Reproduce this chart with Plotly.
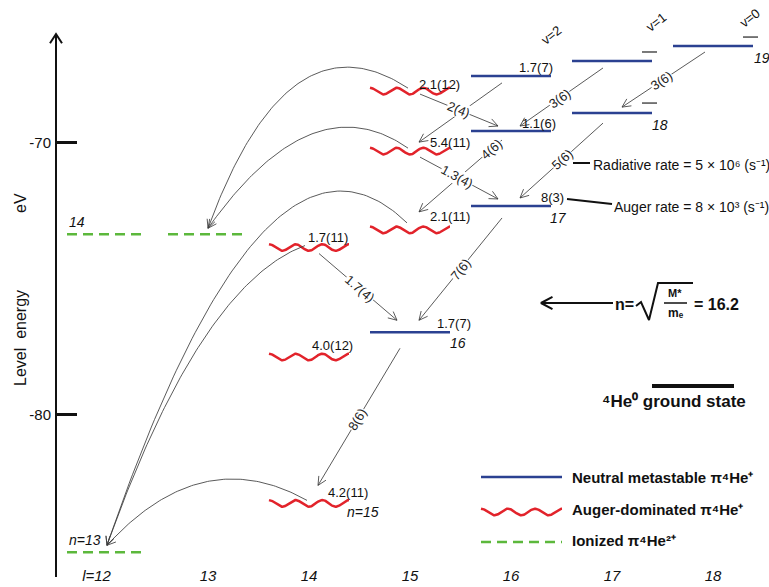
import numpy as np
import plotly.graph_objects as go

# ---------------- data ----------------
x_ticks = [12, 13, 14, 15, 16, 17, 18]
x_ticktext = ["l=12" + "\u00a0" * 5, "13", "14", "15", "16", "17", "18"]
y_ticks = [-70, -80]
y_ticktext = ["-70", "-80"]

# neutral metastable levels (n, l, energy eV)
meta_n = [19, 19, 19, 18, 18, 17, 16]
meta_l = [18, 17, 16, 17, 16, 16, 15]
meta_E = [-66.44, -66.99, -67.54, -68.91, -69.57, -72.33, -76.98]

# Auger-dominated levels
aug_n = [19, 18, 17, 17, 16, 15]
aug_l = [15, 15, 15, 14, 14, 14]
aug_E = [-68.10, -70.31, -73.21, -73.86, -77.89, -83.28]
aug_rate = ["2.1(12)", "5.4(11)", "2.1(11)", "1.7(11)", "4.0(12)", "4.2(11)"]

# ionized levels
ion_n = [14, 14, 13]
ion_l = [12, 13, 12]
ion_E = [-73.37, -73.37, -85.08]

# radiative rates written on metastable levels
rate_n = [19, 18, 17, 16]
rate_l = [16, 16, 16, 15]
rate_txt = ["1.7(7)", "1.1(6)", "8(3)", "1.7(7)"]

# level n names
name_n = [19, 18, 17, 16, 15, 14, 13]
name_l = [18, 17, 16, 15, 14, 12, 12]
name_txt = ["19", "18", "17", "16", "n=15", "14", "n=13"]

# short marks
mark_l = [17, 17, 18]
mark_E = [-66.66, -68.54, -66.11]

# radiative transitions (n,l) -> (n,l)
rad_from = [(19, 18), (19, 17), (19, 16), (18, 17), (18, 16), (17, 16), (16, 15)]
rad_to = [(18, 17), (18, 16), (18, 15), (17, 16), (17, 15), (16, 15), (15, 14)]
rad_lab = ["3(6)", "3(6)", "", "5(6)", "4(6)", "7(6)", "8(6)"]

# collisional transitions from Auger-dominated states
col_from = [(19, 15), (18, 15), (17, 14)]
col_to = [(18, 16), (17, 16), (16, 15)]
col_lab = ["2(4)", "1.3(4)", "1.7(4)"]

# Auger transitions to ionized states
aug_from = [(19, 15), (18, 15), (17, 15), (17, 14), (15, 14)]
aug_to = [(14, 13), (14, 13), (13, 12), (13, 12), (13, 12)]

# ---------------- styles / geometry ----------------
W, H = 769, 587
AXPX = 56
PPX, PPY = 101.0, 27.16
X0PX, Y0PX = 410.0, 142.7
HALF = 40
FONT = "Liberation Sans, Arial, Helvetica, sans-serif"
BLUE = "#2b4191"
RED = "#e2232b"
GREEN = "#5cb83c"
ARC = "#3c3c3c"


def px2l(px):
    return 15 + (px - X0PX) / PPX


def py2e(py):
    return -70 - (py - Y0PX) / PPY


def l2px(l):
    return X0PX + (l - 15) * PPX


def e2py(e):
    return Y0PX - (e + 70) * PPY


E = {}
for n, l, e in zip(meta_n, meta_l, meta_E):
    E[(n, l)] = e
for n, l, e in zip(aug_n, aug_l, aug_E):
    E[(n, l)] = e
for n, l, e in zip(ion_n, ion_l, ion_E):
    E[(n, l)] = e


def pt(nl, dx=0, dy=0):
    return np.array([l2px(nl[1]) + dx, e2py(E[nl]) + dy], dtype=float)


def wave(lc, e, half=HALF, amp=3.3, periods=3, n=120):
    p = np.linspace(-half, half, n)
    x = lc + p / PPX
    y = e + amp / PPY * np.cos(2 * np.pi * periods * (p + half) / (2 * half))
    return list(x), list(y)


def head(tip, frm, length=9.5, half_deg=26.0):
    """V-shaped open arrow head in pixel coords."""
    d = tip - frm
    d = d / np.hypot(*d)
    out = []
    for s in (1, -1):
        a = np.radians(half_deg) * s
        r = np.array([d[0] * np.cos(a) - d[1] * np.sin(a), d[0] * np.sin(a) + d[1] * np.cos(a)])
        out.append(tip - length * r)
    return [out[0], tip, out[1]]


fig = go.Figure()

# metastable levels
xs, ys = [], []
for l, e in zip(meta_l, meta_E):
    xs += [l - HALF / PPX, l + HALF / PPX, None]
    ys += [e, e, None]
fig.add_trace(go.Scatter(x=xs, y=ys, mode="lines", line=dict(color=BLUE, width=2.5),
                         hoverinfo="skip", name="Neutral metastable"))

# Auger-dominated levels (wavy)
xs, ys = [], []
for l, e in zip(aug_l, aug_E):
    wx, wy = wave(l, e)
    xs += wx + [None]
    ys += wy + [None]
fig.add_trace(go.Scatter(x=xs, y=ys, mode="lines", line=dict(color=RED, width=2.5),
                         hoverinfo="skip", name="Auger-dominated"))

# ionized levels
xs, ys = [], []
for l, e in zip(ion_l, ion_E):
    xs += [l - HALF / PPX, l + HALF / PPX, None]
    ys += [e, e, None]
fig.add_trace(go.Scatter(x=xs, y=ys, mode="lines",
                         line=dict(color=GREEN, width=2.5, dash="10px,6px"),
                         hoverinfo="skip", name="Ionized"))

# short marks
xs, ys = [], []
for l, e in zip(mark_l, mark_E):
    xs += [l + 30 / PPX, l + 45 / PPX, None]
    ys += [e, e, None]
fig.add_trace(go.Scatter(x=xs, y=ys, mode="lines", line=dict(color="#333333", width=1.3),
                         hoverinfo="skip"))

# ---------------- arrows (thin lines) ----------------
thin_x, thin_y = [], []
labels = []


def add_poly(pts):
    thin_x.extend([px2l(p[0]) for p in pts] + [None])
    thin_y.extend([py2e(p[1]) for p in pts] + [None])


def add_arrow(p0, p1, lab, t):
    add_poly([p0, p1])
    add_poly(head(p1, p0))
    if lab:
        vx, vy = p1[0] - p0[0], p1[1] - p0[1]
        if vx < 0:
            vx, vy = -vx, -vy
        ang = float(np.degrees(np.arctan2(vy, vx)))
        c = p0 + t * (p1 - p0)
        labels.append((c, lab, ang))


rad_off0 = [(-8, 6), (-9, 7), (-9, 7), (-9, 10), (-9, 9), (-9, 12), (-10, 16)]
rad_off1 = [(10, -6), (9, -5), (9, -9), (9, -8), (9, -18), (9, -12), (9, -18)]
rad_t = [0.52, 0.52, 0.5, 0.49, 0.13, 0.5, 0.52]
for a, b, lab, o0, o1, t in zip(rad_from, rad_to, rad_lab, rad_off0, rad_off1, rad_t):
    add_arrow(pt(a, *o0), pt(b, *o1), lab, t)

col_off0 = [(10, 3), (10, 6), (10, 6)]
col_off1 = [(-13, -5), (-13, -7), (-13, -12)]
col_t = [0.49, 0.47, 0.52]
for a, b, lab, o0, o1, t in zip(col_from, col_to, col_lab, col_off0, col_off1, col_t):
    add_arrow(pt(a, *o0), pt(b, *o1), lab, t)

# curved Auger arrows
cur_off0 = [(-2, -3), (-2, -3), (-3, -7), (-4, -2), (-2, -3)]
cur_ctrl = [(-120, -79), (-96, -67), (-142, -138), (-105, 39), (-105, -59)]
cur_off1 = [(0, -6), (0, -6), (0, -7), (0, -7), (0, -7)]
for a, b, o0, cc, o1 in zip(aug_from, aug_to, cur_off0, cur_ctrl, cur_off1):
    p0 = pt(a, *o0)
    p2 = pt(b, *o1)
    c = p0 + np.array(cc, dtype=float)
    t = np.linspace(0, 1, 100)[:, None]
    B = (1 - t) ** 2 * p0 + 2 * t * (1 - t) * c + t ** 2 * p2
    add_poly(list(B))
    add_poly(head(p2, B[-6]))

fig.add_trace(go.Scatter(x=thin_x, y=thin_y, mode="lines", line=dict(color=ARC, width=0.85),
                         hoverinfo="skip"))

for c, lab, ang in labels:
    fig.add_annotation(x=px2l(c[0]), y=py2e(c[1]), text=lab, textangle=ang,
                       showarrow=False, bgcolor="white", borderpad=0,
                       font=dict(family=FONT, size=13, color="#222222"))


# ---------------- level labels ----------------
def txt(px, py, s, size=13, xanchor="center", angle=0, color="#111111", bold=False,
        italic=False):
    fig.add_annotation(x=px2l(px), y=py2e(py), text=s, showarrow=False, xanchor=xanchor,
                       yanchor="middle", textangle=angle, xref="x", yref="y",
                       font=dict(family=FONT, size=size, color=color,
                                 weight="bold" if bold else "normal",
                                 style="italic" if italic else "normal"))


rate_dx = [4, 7, 15, 23]
rate_dy = [-8, -8, -8, -9]
for n, l, s, dx, dy in zip(rate_n, rate_l, rate_txt, rate_dx, rate_dy):
    p = pt((n, l))
    txt(p[0] + HALF + dx, p[1] + dy, s, xanchor="right")

aug_dx = [12, 22, 22, 1, 6, 21]
aug_dy = [-7, -9, -13, -10, -11, -11]
for n, l, s, dx, dy in zip(aug_n, aug_l, aug_rate, aug_dx, aug_dy):
    p = pt((n, l))
    txt(p[0] + HALF + dx, p[1] + dy, s, xanchor="right")

name_dx = [39, 38, 37, 38, 36, -40, -40]
name_dy = [12, 12, 12, 11, 9, -12, -12]
for n, l, s, dx, dy in zip(name_n, name_l, name_txt, name_dx, name_dy):
    p = pt((n, l))
    txt(p[0] + dx, p[1] + dy, s, size=14, xanchor="left", italic=True)

# vibrational labels
for nl, s, off in zip([(19, 16), (19, 17), (19, 18)], ["v=2", "v=1", "v=0"],
                      [(40, -40), (44, -38), (36, -28)]):
    p = pt(nl)
    txt(p[0] + off[0], p[1] + off[1], s, size=13, angle=-38)

# rate explanations
txt(591, 165, "Radiative rate = 5 \u00d7 10\u2076 (s\u207b\u00b9)", size=14, xanchor="left")
txt(612, 207, "Auger rate = 8 \u00d7 10\u00b3 (s\u207b\u00b9)", size=14, xanchor="left")

deco = []  # thick black decorations (pixel polylines, width)
deco.append(([(573, 163), (590, 163)], 2))
deco.append(([(567, 199), (612, 204)], 2))
# arrow towards n = 16.2
a0, a1 = np.array([613.0, 303.0]), np.array([541.0, 303.0])
deco.append(([a0, a1], 2))
deco.append((head(a1, a0, length=13, half_deg=28), 2))
# radical sign and fraction bar
deco.append(([(636, 306), (641, 302), (649, 320), (658, 283), (693, 283)], 2))
deco.append(([(664, 303), (687, 303)], 1.5))
# ground-state bar
deco.append(([(652, 386), (734, 386)], 4))
# vertical axis with arrow
v0, v1 = np.array([AXPX, 577.0]), np.array([AXPX, 34.0])
deco.append(([v0, v1], 2))
deco.append((head(v1, v0, length=11, half_deg=33), 2))

for pts, w in deco:
    fig.add_trace(go.Scatter(x=[px2l(p[0]) for p in pts], y=[py2e(p[1]) for p in pts],
                             mode="lines", line=dict(color="#111111", width=w),
                             hoverinfo="skip"))

txt(613, 304, "n=", size=16, xanchor="left", bold=True)
txt(675, 293, "M*", size=11, bold=True)
txt(676, 313, "m\u2091", size=12, bold=True)
txt(692, 304, "= 16.2", size=16, xanchor="left", bold=True)

# ground state
txt(600, 401, "\u2074He\u2070 ground state", size=17, xanchor="left", bold=True)

# legend (manual)
leg_y = [477, 512, 542]
fig.add_trace(go.Scatter(x=[px2l(481), px2l(562)], y=[py2e(leg_y[0])] * 2, mode="lines",
                         line=dict(color=BLUE, width=2.5), hoverinfo="skip"))
wx, wy = wave(px2l(521.5), py2e(leg_y[1]), half=40.5)
fig.add_trace(go.Scatter(x=wx, y=wy, mode="lines", line=dict(color=RED, width=2.5),
                         hoverinfo="skip"))
fig.add_trace(go.Scatter(x=[px2l(481), px2l(562)], y=[py2e(leg_y[2])] * 2, mode="lines",
                         line=dict(color=GREEN, width=2.5, dash="10px,6px"), hoverinfo="skip"))
txt(570, 477, "Neutral metastable \u03c0\u2074He\u207a", size=15, xanchor="left", bold=True)
txt(570, 509, "Auger-dominated \u03c0\u2074He\u207a", size=15, xanchor="left", bold=True)
txt(570, 540, "Ionized \u03c0\u2074He\u00b2\u207a", size=15, xanchor="left", bold=True)

# axis titles
txt(20, 203, "eV", size=16, angle=-90)
txt(20, 338, "Level  energy", size=16, angle=-90)

fig.update_layout(
    width=W, height=H, margin=dict(l=0, r=0, t=0, b=0, autoexpand=False),
    plot_bgcolor="white", paper_bgcolor="white", showlegend=False,
    font=dict(family=FONT, color="#111111"),
    xaxis=dict(range=[px2l(0), px2l(W)], tickvals=x_ticks, ticktext=x_ticktext,
               showgrid=False, zeroline=False, showline=False, ticks="",
               automargin=False, ticklabelposition="inside",
               tickfont=dict(size=15, family=FONT, color="#111111", style="italic")),
    yaxis=dict(range=[py2e(H), py2e(0)], tickvals=y_ticks, ticktext=y_ticktext,
               anchor="free", position=AXPX / W, automargin=False,
               showgrid=False, zeroline=False, showline=False, ticks="inside",
               ticklen=20, tickwidth=3, tickcolor="#111111", ticklabelstandoff=5,
               tickfont=dict(size=15, family=FONT, color="#111111")),
)

fig.write_html("out.html", config={"displayModeBar": False},
               post_script="document.body.style.margin='0';")
